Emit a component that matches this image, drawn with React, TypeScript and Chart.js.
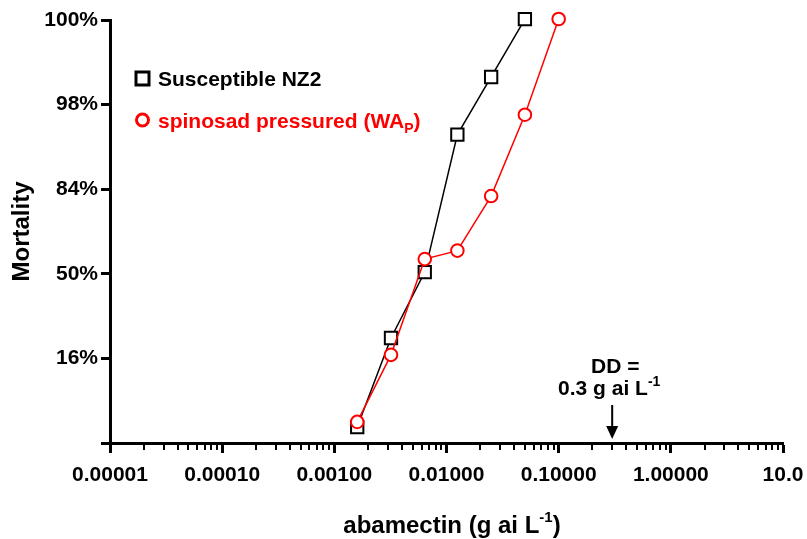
import React, { useEffect, useRef } from 'react';
import { Chart, registerables } from 'chart.js';
Chart.register(...registerables);

// ---- data ----
const nz2Doses = [0.0016, 0.0032, 0.0064, 0.0125, 0.025, 0.05];
const nz2Mortality = [3.5, 22.4, 50.8, 95.0, 99.0, 99.87];
const waDoses = [0.0016, 0.0032, 0.0064, 0.0125, 0.025, 0.05, 0.1];
const waMortality = [4.0, 16.9, 56.9, 60.8, 82.1, 97.0, 99.87];

const xTickValues = [0.00001, 0.0001, 0.001, 0.01, 0.1, 1, 10];
const xTickLabels = ['0.00001', '0.00010', '0.00100', '0.01000', '0.10000', '1.00000', '10.0'];
const yTickProbits = [-2, -1, 0, 1, 2, 3];
const yTickLabels = ['', '16%', '50%', '84%', '98%', '100%'];

const ddDose = 0.3;
const FONT = '"Liberation Sans", Arial, Helvetica, sans-serif';

// inverse standard normal CDF (Acklam)
function probit(p: number): number {
  const a = [-3.969683028665376e1, 2.209460984245205e2, -2.759285104469687e2, 1.38357751867269e2, -3.066479806614716e1, 2.506628277459239];
  const b = [-5.447609879822406e1, 1.615858368580409e2, -1.556989798598866e2, 6.680131188771972e1, -1.328068155288572e1];
  const c = [-7.784894002430293e-3, -3.223964580411365e-1, -2.400758277161838, -2.549732539343734, 4.374664141464968, 2.938163982698783];
  const d = [7.784695709041462e-3, 3.224671290700398e-1, 2.445134137142996, 3.754408661907416];
  const pl = 0.02425;
  if (p < pl) {
    const q = Math.sqrt(-2 * Math.log(p));
    return (((((c[0] * q + c[1]) * q + c[2]) * q + c[3]) * q + c[4]) * q + c[5]) / ((((d[0] * q + d[1]) * q + d[2]) * q + d[3]) * q + 1);
  }
  if (p > 1 - pl) {
    const q = Math.sqrt(-2 * Math.log(1 - p));
    return -(((((c[0] * q + c[1]) * q + c[2]) * q + c[3]) * q + c[4]) * q + c[5]) / ((((d[0] * q + d[1]) * q + d[2]) * q + d[3]) * q + 1);
  }
  const q = p - 0.5;
  const r = q * q;
  return (((((a[0] * r + a[1]) * r + a[2]) * r + a[3]) * r + a[4]) * r + a[5]) * q / (((((b[0] * r + b[1]) * r + b[2]) * r + b[3]) * r + b[4]) * r + 1);
}

const toPoints = (xs: number[], ms: number[]) => xs.map((x, i) => ({ x, y: probit(ms[i] / 100) }));

const decorPlugin = {
  id: 'decor',
  afterDraw(chart: any) {
    const ctx = chart.ctx as CanvasRenderingContext2D;
    const xs = chart.scales.x;
    const ca = chart.chartArea;
    ctx.save();
    // minor ticks
    ctx.strokeStyle = '#000';
    ctx.lineWidth = 2;
    for (let i = 0; i < xTickValues.length - 1; i++) {
      for (let k = 2; k <= 9; k++) {
        const px = Math.round(xs.getPixelForValue(xTickValues[i] * k));
        ctx.beginPath();
        ctx.moveTo(px, ca.bottom);
        ctx.lineTo(px, ca.bottom + 7);
        ctx.stroke();
      }
    }

    // legend
    ctx.lineWidth = 3;
    ctx.strokeStyle = '#000';
    ctx.strokeRect(136, 72, 13, 13);
    ctx.strokeStyle = '#ff0000';
    ctx.beginPath();
    ctx.arc(142.5, 120, 6, 0, Math.PI * 2);
    ctx.stroke();

    ctx.textBaseline = 'alphabetic';
    ctx.textAlign = 'left';
    ctx.font = `bold 21px ${FONT}`;
    ctx.fillStyle = '#000';
    ctx.fillText('Susceptible NZ2', 158, 86);
    ctx.fillStyle = '#ff0000';
    const t1 = 'spinosad pressured (WA';
    ctx.fillText(t1, 158, 128);
    const w = ctx.measureText(t1).width;
    ctx.font = `bold 14px ${FONT}`;
    ctx.fillText('P', 158 + w, 133);
    const wp = ctx.measureText('P').width;
    ctx.font = `bold 21px ${FONT}`;
    ctx.fillText(')', 158 + w + wp, 128);

    // DD annotation
    const ax = xs.getPixelForValue(ddDose);
    ctx.fillStyle = '#000';
    ctx.textAlign = 'center';
    ctx.font = `bold 21px ${FONT}`;
    ctx.fillText('DD =', ax + 3, 373);
    const base = '0.3 g ai L';
    const bw = ctx.measureText(base).width;
    ctx.font = `bold 14px ${FONT}`;
    const sw = ctx.measureText('-1').width;
    const total = bw + sw;
    const sx = ax - 3 - total / 2;
    ctx.textAlign = 'left';
    ctx.font = `bold 21px ${FONT}`;
    ctx.fillText(base, sx, 395);
    ctx.font = `bold 14px ${FONT}`;
    ctx.fillText('-1', sx + bw, 386);
    // arrow
    ctx.strokeStyle = '#000';
    ctx.lineWidth = 2;
    ctx.beginPath();
    ctx.moveTo(ax, 405);
    ctx.lineTo(ax, 428);
    ctx.stroke();
    ctx.beginPath();
    ctx.moveTo(ax - 6, 426);
    ctx.lineTo(ax + 6, 426);
    ctx.lineTo(ax, 439);
    ctx.closePath();
    ctx.fill();

    // y title
    ctx.save();
    ctx.translate(29, ca.top + (ca.bottom - ca.top) / 2);
    ctx.rotate(-Math.PI / 2);
    ctx.textAlign = 'center';
    ctx.font = `bold 24px ${FONT}`;
    ctx.fillText('Mortality', 0, 0);
    ctx.restore();

    // x title
    ctx.font = `bold 24px ${FONT}`;
    const xt = 'abamectin (g ai L';
    const xtw = ctx.measureText(xt).width;
    ctx.font = `bold 15px ${FONT}`;
    const sup = '-1';
    const supw = ctx.measureText(sup).width;
    ctx.font = `bold 24px ${FONT}`;
    const cpw = ctx.measureText(')').width;
    const tot = xtw + supw + cpw;
    const x0 = 452 - tot / 2;
    ctx.textAlign = 'left';
    ctx.fillText(xt, x0, 533);
    ctx.font = `bold 15px ${FONT}`;
    ctx.fillText(sup, x0 + xtw, 522);
    ctx.font = `bold 24px ${FONT}`;
    ctx.fillText(')', x0 + xtw + supw, 533);
    ctx.restore();
  },
};

export default function App() {
  const ref = useRef<HTMLCanvasElement>(null);
  useEffect(() => {
    document.body.style.margin = '0';
    const chart = new Chart(ref.current!, {
      type: 'line',
      data: {
        datasets: [
          {
            label: 'spinosad pressured (WAP)',
            data: toPoints(waDoses, waMortality),
            borderColor: '#ff0000',
            backgroundColor: '#ffffff',
            borderWidth: 1.5,
            pointStyle: 'circle',
            pointRadius: 6.3,
            pointBorderWidth: 2,
            pointBackgroundColor: '#ffffff',
            pointBorderColor: '#ff0000',
            clip: false,
            order: 0,
          },
          {
            label: 'Susceptible NZ2',
            data: toPoints(nz2Doses, nz2Mortality),
            borderColor: '#000000',
            backgroundColor: '#ffffff',
            borderWidth: 1.5,
            pointStyle: 'rect',
            pointRadius: 8.7,
            pointBorderWidth: 2,
            pointBackgroundColor: '#ffffff',
            pointBorderColor: '#000000',
            clip: false,
            order: 1,
          },
        ],
      },
      options: {
        animation: false,
        responsive: true,
        maintainAspectRatio: false,
        layout: { padding: { top: 20, right: 24, left: 0, bottom: 0 } },
        plugins: { legend: { display: false }, tooltip: { enabled: false } },
        scales: {
          x: {
            type: 'logarithmic',
            min: 0.00001,
            max: 10,
            afterBuildTicks: (s: any) => {
              s.ticks = xTickValues.map((v) => ({ value: v, major: true }));
            },
            afterFit: (s: any) => {
              s.height = 96;
              s.paddingLeft = 0;
              s.paddingRight = 0;
              s.paddingTop = 0;
              s.paddingBottom = 0;
            },
            border: { display: true, color: '#000', width: 3 },
            grid: { display: true, drawOnChartArea: false, drawTicks: true, tickLength: 10, tickWidth: 3, tickColor: '#000' },
            ticks: {
              autoSkip: false,
              maxRotation: 0,
              minRotation: 0,
              padding: 10,
              color: '#000',
              font: { family: FONT, size: 21, weight: 'bold' },
              callback: (_v: any, i: number) => xTickLabels[i],
            },
          },
          y: {
            type: 'linear',
            min: -2,
            max: 3,
            afterBuildTicks: (s: any) => {
              s.ticks = yTickProbits.map((v) => ({ value: v }));
            },
            afterFit: (s: any) => {
              s.width = 110;
              s.paddingLeft = 0;
              s.paddingRight = 0;
              s.paddingTop = 0;
              s.paddingBottom = 0;
            },
            border: { display: true, color: '#000', width: 3 },
            grid: { display: true, drawOnChartArea: false, drawTicks: true, tickLength: 9, tickWidth: 3, tickColor: '#000' },
            ticks: {
              autoSkip: false,
              padding: 3,
              color: '#000',
              font: { family: FONT, size: 21, weight: 'bold' },
              callback: (_v: any, i: number) => yTickLabels[i],
            },
          },
        },
      },
      plugins: [decorPlugin],
    } as any);
    return () => chart.destroy();
  }, []);
  return (
    <div style={{ position: 'fixed', left: 0, top: 0, width: 807, height: 539, background: '#fff' }}>
      <canvas ref={ref} />
    </div>
  );
}
